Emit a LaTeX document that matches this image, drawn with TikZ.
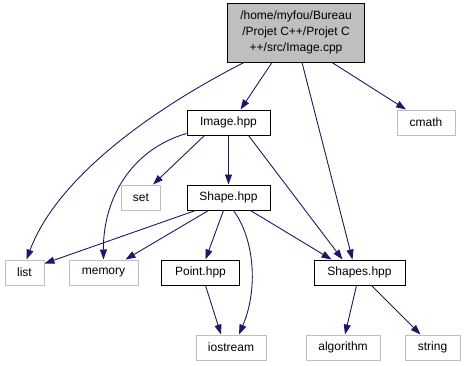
\documentclass[tikz,border=0pt]{standalone}
\usepackage{fontspec}
\setmainfont{Liberation Sans}
\usetikzlibrary{arrows.meta,calc}
\definecolor{edgeblue}{HTML}{191970}
\definecolor{rootgray}{HTML}{BFBFBF}
\definecolor{sysgray}{HTML}{BFBFBF}

\begin{document}
\begin{tikzpicture}[x=1pt,y=-1pt,
  box/.style={draw, rectangle, inner sep=0pt, minimum height=25pt,
              font=\fontsize{12}{14}\selectfont, line width=1pt},
  localbox/.style={box, draw=black},
  sysbox/.style={box, draw=sysgray},
  rootbox/.style={box, fill=rootgray, draw=black, align=center,
                  font=\fontsize{12}{16}\selectfont},
  dep/.style={draw=edgeblue, line width=0.9pt,
              -{Triangle[length=10pt,width=7pt]}}
]
\useasboundingbox (0,0) rectangle (465,365);

% files
\node[rootbox, minimum width=137pt, minimum height=59pt] (root) at (296,32.5)
  {/home/myfou/Bureau\\/Projet C++/Projet C\\++/src/Image.cpp};
\node[localbox, minimum width=83pt] (image)     at (228.5,122.5) {Image.hpp};
\node[sysbox,   minimum width=58pt] (cmath)     at (426,122.5)   {cmath};
\node[sysbox,   minimum width=39pt] (set)       at (141,197.5)   {set};
\node[localbox, minimum width=83pt] (shape)     at (228.5,197.5) {Shape.hpp};
\node[sysbox,   minimum width=39pt] (list)      at (24.5,272.5)  {list};
\node[sysbox,   minimum width=69pt] (memory)    at (103.5,272.5) {memory};
\node[localbox, minimum width=78pt] (point)     at (200.5,272.5) {Point.hpp};
\node[localbox, minimum width=91pt] (shapes)    at (359.5,272.5) {Shapes.hpp};
\node[sysbox,   minimum width=70pt] (iostream)  at (231,347.5)   {iostream};
\node[sysbox,   minimum width=74pt] (algorithm) at (343,347.5)   {algorithm};
\node[sysbox,   minimum width=55pt] (string)    at (432.5,347.5) {string};

% includes of Image.cpp
\draw[dep] ($(root.south)+(-24,0)$) -- ($(image.north)+(12,0)$);
\draw[dep] ($(root.south)+(-52,0)$) .. controls (170,100) and (60,170) .. ($(list.north)+(2,0)$);
\draw[dep] ($(root.south)+(6,0)$) -- ($(shapes.north)+(-7,0)$);
\draw[dep] ($(root.south)+(36,0)$) -- ($(cmath.north)+(-20,0)$);

% includes of Image.hpp
\draw[dep] ($(image.south)+(-24,0)$) -- ($(set.north)+(12,0)$);
\draw[dep] ($(image.south west)+(0,-2)$) .. controls (130,150) and (103,200) .. (memory.north);
\draw[dep] (image.south) -- (shape.north);
\draw[dep] ($(image.south)+(20,0)$) -- ($(shapes.north)+(-17,0)$);

% includes of Shape.hpp
\draw[dep] ($(shape.south)+(-33,0)$) -- ($(list.north east)+(0,4)$);
\draw[dep] ($(shape.south)+(-20,0)$) -- ($(memory.north)+(22,0)$);
\draw[dep] ($(shape.south)+(-5,0)$) -- ($(point.north)+(5,0)$);
\draw[dep] ($(shape.south)+(5,0)$) .. controls (255,240) and (258,290) .. ($(iostream.north)+(8,0)$);
\draw[dep] ($(shape.south)+(22,0)$) -- ($(shapes.north)+(-28,0)$);

% includes of Point.hpp
\draw[dep] ($(point.south)+(5,0)$) -- ($(iostream.north)+(-10,0)$);

% includes of Shapes.hpp
\draw[dep] ($(shapes.south)+(-3,0)$) -- ($(algorithm.north)+(2,0)$);
\draw[dep] ($(shapes.south)+(12,0)$) -- ($(string.north)+(-12,0)$);
\end{tikzpicture}
\end{document}
